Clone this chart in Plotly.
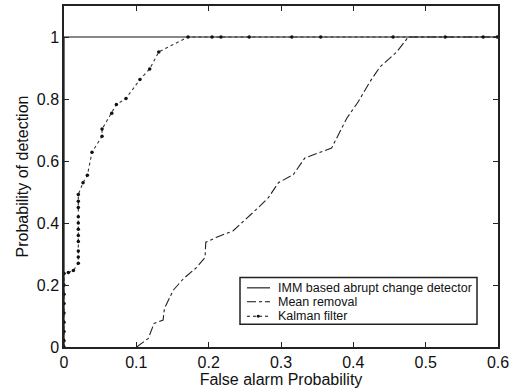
import plotly.graph_objects as go

# IMM based abrupt change detector
imm_x = [0.0, 0.0, 0.6]
imm_y = [0.0, 1.0, 1.0]

# Mean removal
mr_x = [0.1005, 0.1166, 0.1245, 0.137, 0.1388, 0.151, 0.165, 0.1835, 0.195, 0.196, 0.211, 0.234,
        0.271, 0.2826, 0.2964, 0.317, 0.333, 0.370, 0.391, 0.407, 0.423, 0.437, 0.46, 0.476, 0.6]
mr_y = [0.0, 0.028, 0.076, 0.087, 0.124, 0.183, 0.22, 0.257, 0.289, 0.338, 0.354, 0.375,
        0.455, 0.482, 0.530, 0.556, 0.61, 0.642, 0.738, 0.792, 0.856, 0.904, 0.952, 1.0, 1.0]

# Kalman filter
kf_x = [0.0, 0.0, 0.0, 0.0, 0.0, 0.0, 0.0, 0.0, 0.0, 0.006, 0.013,
        0.0198, 0.0198, 0.0198, 0.0198, 0.0198, 0.0198, 0.0198, 0.0198, 0.0198, 0.0198, 0.0198,
        0.0263, 0.0323, 0.0387, 0.0526, 0.0526, 0.066, 0.0724, 0.0857, 0.105, 0.1185, 0.131,
        0.1715, 0.2047, 0.217, 0.256, 0.315, 0.355, 0.455, 0.527, 0.5795, 0.599]
kf_y = [0.0, 0.02, 0.05, 0.08, 0.11, 0.14, 0.17, 0.20, 0.237, 0.24, 0.247,
        0.27, 0.29, 0.31, 0.34, 0.36, 0.38, 0.40, 0.42, 0.45, 0.47, 0.492,
        0.530, 0.554, 0.628, 0.680, 0.703, 0.754, 0.782, 0.802, 0.863, 0.897, 0.952,
        1.0, 1.0, 1.0, 1.0, 1.0, 1.0, 1.0, 1.0, 1.0, 1.0]

series_names = ["IMM based abrupt change detector", "Mean removal", "Kalman filter"]

x_ticks = [0, 0.1, 0.2, 0.3, 0.4, 0.5, 0.6]
x_labels = ["0", "0.1", "0.2", "0.3", "0.4", "0.5", "0.6"]
y_ticks = [0, 0.2, 0.4, 0.6, 0.8, 1.0]
y_labels = ["0", "0.2", "0.4", "0.6", "0.8", "1"]

FONT = "Liberation Sans, Arial, sans-serif"
INK = "#111111"

fig = go.Figure()
fig.add_trace(go.Scatter(x=imm_x, y=imm_y, mode="lines", name=series_names[0],
                         line=dict(color=INK, width=1.2, dash="solid")))
fig.add_trace(go.Scatter(x=mr_x, y=mr_y, mode="lines", name=series_names[1],
                         line=dict(color="#222222", width=1.1, dash="dashdot")))
fig.add_trace(go.Scatter(x=kf_x, y=kf_y, mode="lines+markers", name=series_names[2],
                         line=dict(color="#333333", width=1.1, dash="dot"),
                         marker=dict(color=INK, size=3.5, symbol="circle")))

axis_common = dict(showgrid=False, zeroline=False, showline=True, linecolor="#222222", linewidth=1.5,
                   mirror="ticks", ticks="inside", ticklen=5, tickcolor="#222222",
                   tickfont=dict(family=FONT, size=16, color=INK))

# ---- hand-built legend (compact, like the original) ----
L, R, T, B = 64, 498, 4, 347
def px(xp):
    return (xp - L) / (R - L)
def py(yp):
    return (B - yp) / (B - T)

shapes = [dict(type="rect", xref="paper", yref="paper", x0=px(240), x1=px(477), y0=py(324), y1=py(277),
               line=dict(color="#222222", width=1.5), fillcolor="white", layer="above")]
rows = [287.5, 301.5, 316]
dashes = ["solid", "dashdot", "dot"]
annotations = []
for name, ry, d in zip(series_names, rows, dashes):
    shapes.append(dict(type="line", xref="paper", yref="paper", x0=px(247), x1=px(270), y0=py(ry), y1=py(ry),
                       line=dict(color=INK, width=1.1, dash=d), layer="above"))
    annotations.append(dict(xref="paper", yref="paper", x=px(276), y=py(ry), text=name, showarrow=False,
                            xanchor="left", yanchor="middle", font=dict(family=FONT, size=12.5, color=INK)))
shapes.append(dict(type="circle", xref="paper", yref="paper", x0=px(256.7), x1=px(259.7),
                   y0=py(rows[2] + 1.5), y1=py(rows[2] - 1.5), fillcolor=INK, line=dict(color=INK, width=0),
                   layer="above"))

fig.update_layout(
    width=513, height=392,
    margin=dict(l=L, r=513 - R, t=T, b=392 - B),
    paper_bgcolor="white", plot_bgcolor="white",
    font=dict(family=FONT, color=INK),
    xaxis=dict(range=[0, 0.6], tickvals=x_ticks, ticktext=x_labels,
               title=dict(text="False alarm Probability", font=dict(size=16), standoff=3), **axis_common),
    yaxis=dict(range=[0, 1.1], tickvals=y_ticks, ticktext=y_labels,
               title=dict(text="Probability of detection", font=dict(size=16), standoff=4), **axis_common),
    showlegend=False,
    shapes=shapes,
    annotations=annotations,
)

fig.write_html("out.html")
